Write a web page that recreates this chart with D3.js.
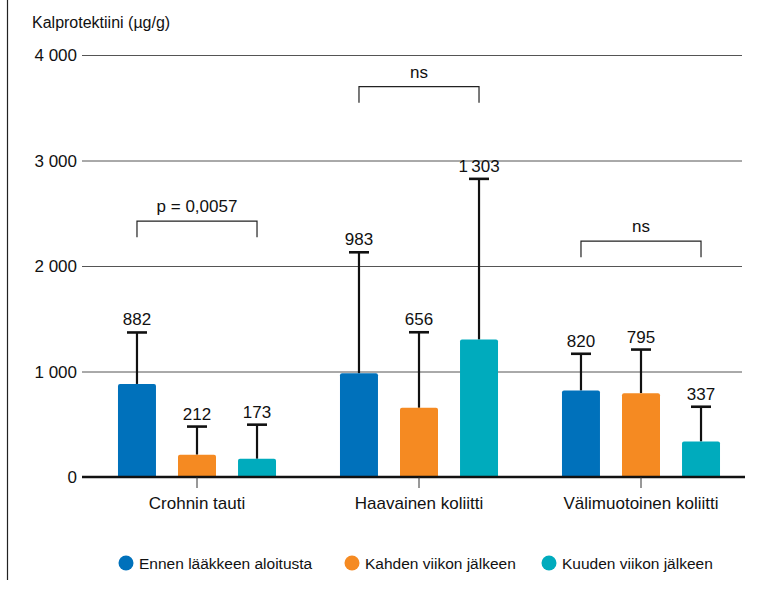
<!DOCTYPE html>
<html>
<head>
    <meta charset="utf-8">
    <title>Kalprotektiini</title>
    <script src="https://d3js.org/d3.v7.min.js"></script>
    <style>
        body { margin: 0; background: #fff; }
        svg text { font-family: "Liberation Sans", Arial, sans-serif; fill: #111; }
    </style>
</head>
<body>
    <svg id="chart"></svg>
    <script>
        // data
        const groups = ["Crohnin tauti", "Haavainen koliitti", "Välimuotoinen koliitti"];
        const series = ["Ennen lääkkeen aloitusta", "Kahden viikon jälkeen", "Kuuden viikon jälkeen"];
        const colors = ["#0071bb", "#f58a22", "#00abbd"];
        const means = [[882, 212, 173], [983, 656, 1303], [820, 795, 337]];
        const upper = [[1370, 478, 496], [2130, 1372, 2826], [1168, 1208, 666]];
        const bracketGroups = [0, 1, 2];
        const bracketLabels = ["p = 0,0057", "ns", "ns"];
        const bracketLevels = [2425, 3700, 2235];
        const yTicks = [0, 1000, 2000, 3000, 4000];

        const width = 768;
        const height = 592;

        const svg = d3.select("#chart")
            .attr("width", width)
            .attr("height", height);

        const fi = d3.formatLocale({ decimal: ",", thousands: "\u2009", grouping: [3], currency: ["", " €"] });
        const fmtLabel = fi.format(",d");
        const fmtTick = d3.formatLocale({ decimal: ",", thousands: " ", grouping: [3], currency: ["", " €"] }).format(",d");

        // scales
        const x0 = d3.scaleBand().domain(groups).range([86, 752]);
        const x1 = d3.scaleBand().domain(series).range([21, 201]).paddingInner(0.367).paddingOuter(0.183);
        const y = d3.scaleLinear().domain([0, 4000]).range([477, 55]);

        // left frame line
        svg.append("line")
            .attr("x1", 7.5).attr("x2", 7.5)
            .attr("y1", 0).attr("y2", 580)
            .attr("stroke", "#222").attr("stroke-width", 1.2);

        // title
        svg.append("text")
            .attr("x", 32).attr("y", 28)
            .style("font-size", "16px")
            .text("Kalprotektiini (\u00b5g/g)");

        // gridlines + y labels
        const yAxis = svg.append("g");
        yAxis.selectAll("line.grid")
            .data(yTicks.filter(d => d > 0))
            .enter().append("line")
            .attr("class", "grid")
            .attr("x1", 82).attr("x2", 742)
            .attr("y1", d => y(d) + 0.5).attr("y2", d => y(d) + 0.5)
            .attr("stroke", "#555").attr("stroke-width", 1);
        yAxis.selectAll("text")
            .data(yTicks)
            .enter().append("text")
            .attr("x", 77)
            .attr("y", d => y(d))
            .attr("dy", "0.36em")
            .attr("text-anchor", "end")
            .style("font-size", "17px")
            .text(d => fmtTick(d));

        // bars
        const gGroups = svg.selectAll(".group")
            .data(groups)
            .enter().append("g")
            .attr("class", "group")
            .attr("transform", d => `translate(${x0(d)},0)`);

        const items = gGroups.selectAll(".item")
            .data((g, gi) => series.map((s, si) => ({ s, si, mean: means[gi][si], up: upper[gi][si] })))
            .enter().append("g")
            .attr("class", "item");

        // error bars
        items.append("line")
            .attr("x1", d => x1(d.s) + x1.bandwidth() / 2)
            .attr("x2", d => x1(d.s) + x1.bandwidth() / 2)
            .attr("y1", d => y(d.mean))
            .attr("y2", d => y(d.up))
            .attr("stroke", "#111").attr("stroke-width", 2.2);
        items.append("line")
            .attr("x1", d => x1(d.s) + x1.bandwidth() / 2 - 10)
            .attr("x2", d => x1(d.s) + x1.bandwidth() / 2 + 10)
            .attr("y1", d => y(d.up))
            .attr("y2", d => y(d.up))
            .attr("stroke", "#111").attr("stroke-width", 2.6);

        items.append("path")
            .attr("fill", d => colors[d.si])
            .attr("d", d => {
                const bx = x1(d.s), bw = x1.bandwidth(), top = y(d.mean), base = y(0), r = 2;
                return `M${bx},${base}V${top + r}Q${bx},${top} ${bx + r},${top}H${bx + bw - r}Q${bx + bw},${top} ${bx + bw},${top + r}V${base}Z`;
            });

        items.append("text")
            .attr("x", d => x1(d.s) + x1.bandwidth() / 2)
            .attr("y", d => y(d.up) - 7)
            .attr("text-anchor", "middle")
            .style("font-size", "17px")
            .text(d => fmtLabel(d.mean));

        // x axis
        svg.append("line")
            .attr("x1", 82).attr("x2", 745)
            .attr("y1", y(0)).attr("y2", y(0))
            .attr("stroke", "#111").attr("stroke-width", 2.6);
        const xAxis = svg.append("g").attr("transform", `translate(0,${y(0)})`)
            .call(d3.axisBottom(x0).tickSize(11).tickSizeOuter(0));
        xAxis.select(".domain").remove();
        xAxis.selectAll(".tick line").attr("stroke", "#333").attr("stroke-width", 1);
        xAxis.selectAll(".tick text")
            .attr("y", 20)
            .attr("dy", "0.71em")
            .style("font-size", "17px")
            .attr("fill", "#111")
            .style("font-family", "'Liberation Sans', Arial, sans-serif");

        // significance brackets
        bracketGroups.forEach((gi, i) => {
            const g = groups[gi];
            const xa = x0(g) + x1(series[0]) + x1.bandwidth() / 2;
            const xb = x0(g) + x1(series[2]) + x1.bandwidth() / 2;
            const yb = y(bracketLevels[i]);
            svg.append("path")
                .attr("d", `M${xa},${yb + 16}V${yb}H${xb}V${yb + 16}`)
                .attr("fill", "none").attr("stroke", "#222").attr("stroke-width", 1.2);
            svg.append("text")
                .attr("x", (xa + xb) / 2)
                .attr("y", yb - 9)
                .attr("text-anchor", "middle")
                .style("font-size", "17px")
                .text(bracketLabels[i]);
        });

        // legend
        const legendX = [126, 352, 549];
        const legend = svg.selectAll(".legend")
            .data(series)
            .enter().append("g")
            .attr("class", "legend")
            .attr("transform", (d, i) => `translate(${legendX[i]},563)`);
        legend.append("circle").attr("r", 7.5).attr("fill", (d, i) => colors[i]);
        legend.append("text")
            .attr("x", 13).attr("dy", "0.36em")
            .style("font-size", "15.5px")
            .text(d => d);
    </script>
</body>
</html>
